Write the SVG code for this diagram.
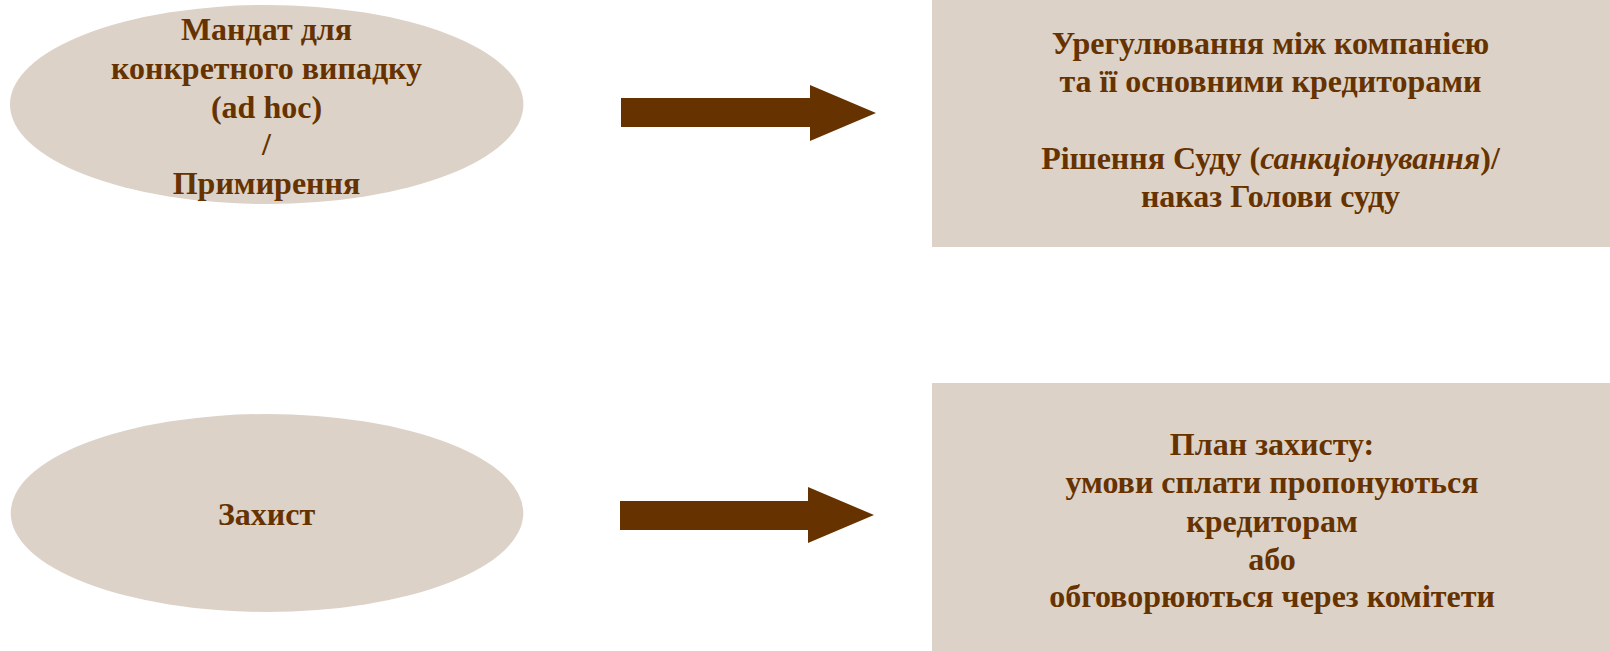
<svg xmlns="http://www.w3.org/2000/svg" width="1610" height="651" viewBox="0 0 1610 651">
<style>
.shape{fill:#DCD2C8;}
.arrow{fill:#663300;}
.t{font-family:"Liberation Serif","Times New Roman",serif;font-weight:bold;font-size:32px;fill:#663300;text-anchor:middle;}
</style>
<rect width="1610" height="651" fill="#FFFFFF"/>
<g id="node-adhoc">
<ellipse class="shape" cx="266.7" cy="104.5" rx="256.7" ry="99.5"/>
<text class="t" x="266.5" y="40">Мандат для</text>
<text class="t" x="266.5" y="79">конкретного випадку</text>
<text class="t" x="266.5" y="118">(ad hoc)</text>
<text class="t" x="266.5" y="155">/</text>
<text class="t" x="266.5" y="194">Примирення</text>
</g>
<g id="node-settlement">
<rect class="shape" x="932" y="0" width="678" height="247"/>
<text class="t" x="1270.5" y="53.5">Урегулювання між компанією</text>
<text class="t" x="1270.5" y="91.5">та її основними кредиторами</text>
<text class="t" x="1270.5" y="169">Рішення Суду (<tspan font-style="italic">санкціонування</tspan>)/</text>
<text class="t" x="1270.5" y="206.5">наказ Голови суду</text>
</g>
<g id="node-protection">
<ellipse class="shape" cx="267" cy="513" rx="256.3" ry="99"/>
<text class="t" x="266.5" y="525">Захист</text>
</g>
<g id="node-plan">
<rect class="shape" x="932" y="383" width="678" height="268"/>
<text class="t" x="1272" y="455">План захисту:</text>
<text class="t" x="1272" y="493">умови сплати пропонуються</text>
<text class="t" x="1272" y="532">кредиторам</text>
<text class="t" x="1272" y="570">або</text>
<text class="t" x="1272" y="607">обговорюються через комітети</text>
</g>
<g id="connectors">
<polygon class="arrow" points="621,98 810,98 810,85 876,113 810,141 810,127 621,127"/>
<polygon class="arrow" points="620,501 808,501 808,487 874,515 808,543 808,530 620,530"/>
</g>
</svg>
